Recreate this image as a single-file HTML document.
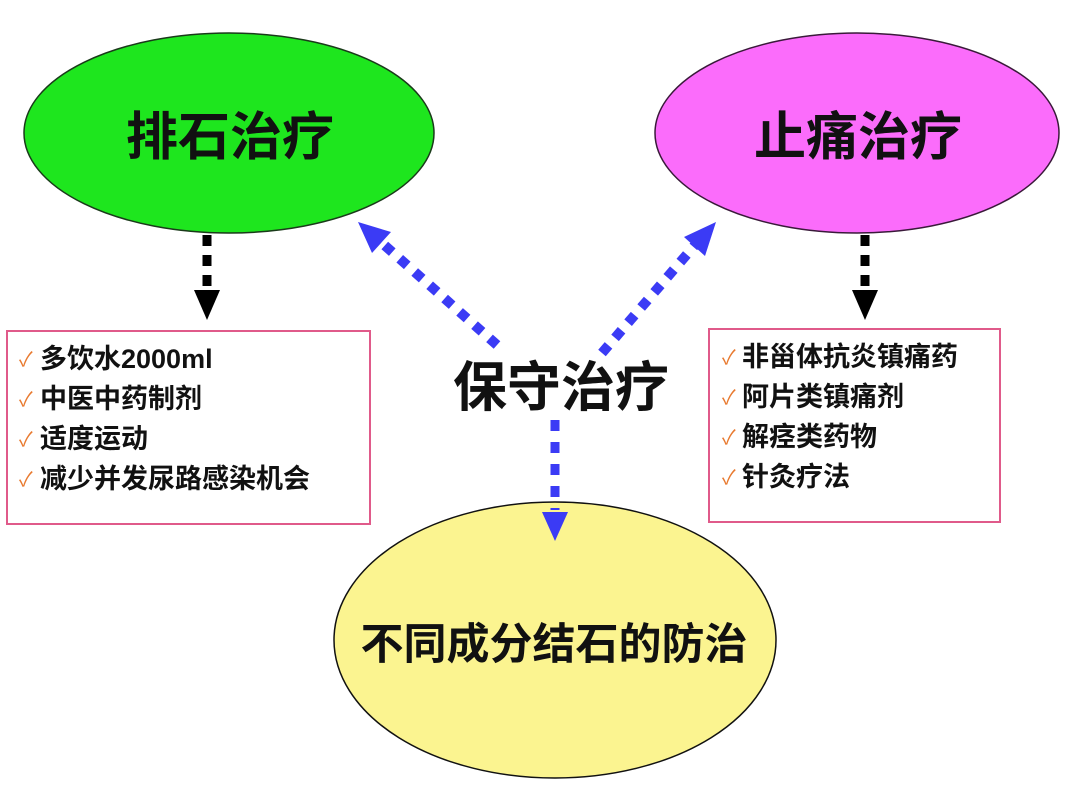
<!DOCTYPE html>
<html><head><meta charset="utf-8"><style>
html,body{margin:0;padding:0;background:#fff;}
svg{display:block}
text{font-family:"Liberation Sans","Noto Sans CJK SC","WenQuanYi Zen Hei",sans-serif;font-weight:bold;fill:#111}
.ck{fill:#e87a30;font-weight:normal;font-size:20px}
</style></head><body>
<svg width="1080" height="786" viewBox="0 0 1080 786" xmlns="http://www.w3.org/2000/svg">
<rect width="1080" height="786" fill="#fff"/>
<ellipse cx="229" cy="133" rx="205" ry="100" fill="#1ee61e" stroke="#1a3a1a" stroke-width="1.5"/>
<ellipse cx="857" cy="133" rx="202" ry="100" fill="#fb6cfb" stroke="#3a1a3a" stroke-width="1.5"/>
<ellipse cx="555" cy="640" rx="221" ry="138" fill="#fbf490" stroke="#111" stroke-width="1.5"/>
<text x="230" y="155" font-size="52" text-anchor="middle">排石治疗</text>
<text x="858" y="155" font-size="52" text-anchor="middle">止痛治疗</text>
<text x="554" y="659" font-size="43" text-anchor="middle">不同成分结石的防治</text>
<text x="561" y="406" font-size="54" text-anchor="middle">保守治疗</text>
<line x1="207" y1="235" x2="207" y2="290" stroke="#000" stroke-width="9" stroke-dasharray="11 9"/>
<polygon points="194,290 220,290 207,320" fill="#000"/>
<line x1="865" y1="235" x2="865" y2="290" stroke="#000" stroke-width="9" stroke-dasharray="11 9"/>
<polygon points="852,290 878,290 865,320" fill="#000"/>
<line x1="497" y1="345" x2="382" y2="243" stroke="#3b3bf5" stroke-width="10" stroke-dasharray="10 10"/>
<polygon points="358,222 391,232 372,253" fill="#3b3bf5"/>
<line x1="602" y1="353" x2="695" y2="245" stroke="#3b3bf5" stroke-width="10" stroke-dasharray="10 10"/>
<polygon points="716,222 705,256 684,237" fill="#3b3bf5"/>
<line x1="555" y1="420" x2="555" y2="510" stroke="#3b3bf5" stroke-width="9" stroke-dasharray="11 11"/>
<polygon points="542,512 568,512 555,541" fill="#3b3bf5"/>
<rect x="7" y="331" width="363" height="193" fill="#fff" stroke="#e05a8a" stroke-width="2"/>
<rect x="709" y="329" width="291" height="193" fill="#fff" stroke="#e05a8a" stroke-width="2"/>
<g font-size="27">
<text x="19" y="366" class="ck">✓</text>
<text x="40" y="368">多饮水2000ml</text>
<text x="19" y="406" class="ck">✓</text>
<text x="40" y="408">中医中药制剂</text>
<text x="19" y="446" class="ck">✓</text>
<text x="40" y="448">适度运动</text>
<text x="19" y="486" class="ck">✓</text>
<text x="40" y="488">减少并发尿路感染机会</text>
<text x="722" y="364" class="ck">✓</text>
<text x="742" y="366">非甾体抗炎镇痛药</text>
<text x="722" y="404" class="ck">✓</text>
<text x="742" y="406">阿片类镇痛剂</text>
<text x="722" y="444" class="ck">✓</text>
<text x="742" y="446">解痉类药物</text>
<text x="722" y="484" class="ck">✓</text>
<text x="742" y="486">针灸疗法</text>
</g>
</svg>
</body></html>
